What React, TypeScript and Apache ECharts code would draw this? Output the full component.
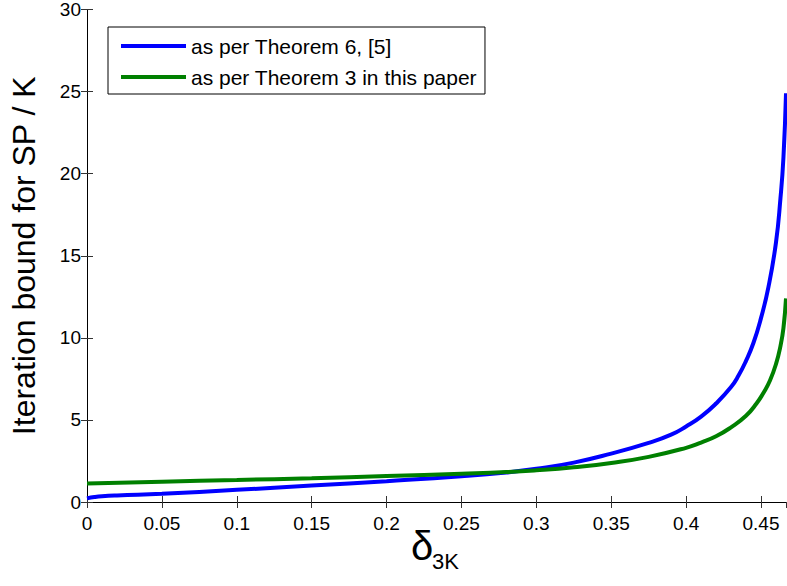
import React, { useEffect, useRef } from "react";
import * as echarts from "echarts";

const blueX = [0, 0.005, 0.01, 0.02, 0.05, 0.1, 0.15, 0.2, 0.25, 0.28, 0.3, 0.325, 0.35, 0.375, 0.39, 0.4, 0.41, 0.42, 0.43, 0.435, 0.44, 0.445, 0.45, 0.455, 0.46, 0.463, 0.465, 0.4667];
const blueY = [0.22, 0.3, 0.35, 0.4, 0.5, 0.74, 1.0, 1.27, 1.57, 1.8, 2.02, 2.4, 2.95, 3.6, 4.1, 4.6, 5.2, 6.0, 7.0, 7.7, 8.6, 9.7, 11.2, 13.1, 15.8, 18.5, 21, 24.9];
const greenX = [0, 0.05, 0.1, 0.15, 0.2, 0.25, 0.28, 0.3, 0.325, 0.35, 0.375, 0.4, 0.41, 0.42, 0.43, 0.44, 0.447, 0.452, 0.456, 0.46, 0.463, 0.465, 0.4667];
const greenY = [1.12, 1.24, 1.34, 1.45, 1.58, 1.72, 1.82, 1.93, 2.12, 2.38, 2.75, 3.3, 3.62, 4.0, 4.55, 5.25, 6.0, 6.7, 7.4, 8.4, 9.5, 10.6, 12.4];
const seriesNames = ["as per Theorem 6, [5]", "as per Theorem 3 in this paper"];
const xMin = 0;
const xMax = 0.4667;
const xStep = 0.05;
const yMin = 0;
const yMax = 30;
const yStep = 5;

const FONT = "Liberation Sans, Arial, sans-serif";

export default function App() {
  const ref = useRef<HTMLDivElement>(null);
  useEffect(() => {
    document.body.style.margin = "0";
    const chart = echarts.init(ref.current!, null, { renderer: "svg" });
    const axisLine = { show: true, lineStyle: { color: "#000", width: 1 } };
    const tick = { show: true, inside: true, length: 6, lineStyle: { color: "#333", width: 1 } };
    chart.setOption({
      animation: false,
      backgroundColor: "#fff",
      grid: { left: 86, top: 8, right: 1, bottom: 84, containLabel: false },
      legend: {
        orient: "vertical",
        left: 108,
        top: 27,
        padding: [8, 8, 6, 13],
        itemGap: 9,
        itemWidth: 65,
        itemHeight: 4,
        icon: "rect",
        borderColor: "#000",
        borderWidth: 1,
        backgroundColor: "#fff",
        textStyle: { fontFamily: FONT, fontSize: 21, color: "#000", lineHeight: 22 },
        data: seriesNames,
      },
      xAxis: [
        {
          type: "value",
          min: xMin,
          max: xMax,
          interval: xStep,
          position: "bottom",
          axisLine,
          axisTick: tick,
          splitLine: { show: false },
          axisLabel: { showMaxLabel: false, color: "#000", fontFamily: FONT, fontSize: 19, margin: 12 },
        },
        {
          type: "value",
          min: xMin,
          max: xMax,
          interval: xStep,
          position: "top",
          axisLine,
          axisTick: tick,
          splitLine: { show: false },
          axisLabel: { show: false },
        },
      ],
      yAxis: [
        {
          type: "value",
          min: yMin,
          max: yMax,
          interval: yStep,
          position: "left",
          axisLine,
          axisTick: tick,
          splitLine: { show: false },
          axisLabel: { color: "#000", fontFamily: FONT, fontSize: 19, margin: 6 },
          name: "Iteration bound for SP / K",
          nameLocation: "middle",
          nameGap: 47,
          nameTextStyle: { fontFamily: FONT, fontSize: 32, color: "#000" },
        },
        {
          type: "value",
          min: yMin,
          max: yMax,
          interval: yStep,
          position: "right",
          axisLine,
          axisTick: tick,
          splitLine: { show: false },
          axisLabel: { show: false },
        },
      ],
      graphic: [
        { type: "text", left: 411, top: 526, style: { text: "δ", font: `40px ${FONT}`, fill: "#000" } },
        { type: "text", left: 432, top: 550, style: { text: "3K", font: `22px ${FONT}`, fill: "#000" } },
      ],
      series: [
        {
          name: seriesNames[0],
          type: "line",
          data: blueX.map((x, i) => [x, blueY[i]]),
          showSymbol: false,
          smooth: 0.5,
          lineStyle: { color: "#0000ff", width: 4 },
          itemStyle: { color: "#0000ff" },
          clip: true,
        },
        {
          name: seriesNames[1],
          type: "line",
          data: greenX.map((x, i) => [x, greenY[i]]),
          showSymbol: false,
          smooth: 0.5,
          lineStyle: { color: "#008000", width: 4 },
          itemStyle: { color: "#008000" },
          clip: true,
        },
      ],
    });
    return () => chart.dispose();
  }, []);
  return <div ref={ref} style={{ width: 787, height: 586 }} />;
}
